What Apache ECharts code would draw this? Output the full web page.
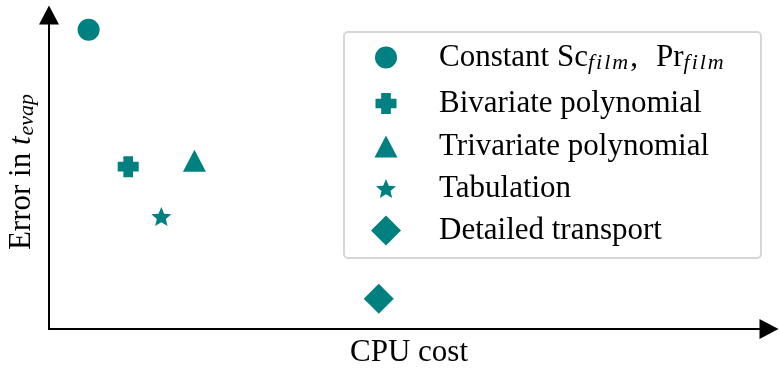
<!DOCTYPE html>
<html>
<head>
<meta charset="utf-8">
<script src="https://cdn.jsdelivr.net/npm/echarts@6/dist/echarts.min.js"></script>
<style>
html,body{margin:0;padding:0;background:#fff;}
#chart{width:779px;height:369px;}
</style>
</head>
<body>
<div id="chart"></div>
<script>
// ---- data ----
var methodNames = ['Constant Sc_film, Pr_film', 'Bivariate polynomial', 'Trivariate polynomial', 'Tabulation', 'Detailed transport'];
var cpuCost = [5.5, 11.0, 20.2, 15.6, 45.8];
var evapError = [95.3, 51.7, 53.6, 35.8, 9.6];
var xAxisTitle = 'CPU cost';
var yAxisTitle = 'Error in {it|t}{ysub|evap}';

// ---- styling ----
var TEAL = '#008080';
var FONT = 'Liberation Serif';
var FS = 31;
var plusPath = 'path://M27 0H73V27H100V73H73V100H27V73H0V27H27Z';
var starPath = 'path://M100 0L126.45 63.59L195.11 69.1L142.8 113.91L158.78 180.9L100 145L41.22 180.9L57.2 113.91L4.89 69.1L73.55 63.59Z';
var symbols = ['circle', plusPath, 'triangle', starPath, 'diamond'];
var symbolSizes = [[22, 22], [21, 21], [23, 22], [20, 19], [30, 30]];
var legendRowCenters = [56, 102, 145, 187, 230];
var legendIconCenterX = 386;
var legendTextX = 439;

var chart = echarts.init(document.getElementById('chart'), null, {renderer: 'canvas'});

var subStyle = {fontFamily: FONT, fontSize: 22, fontStyle: 'italic', color: '#000', padding: [11, 2, 0, 0]};

function fmtLegend(name) {
  return '{gap| }' + name
    .replace(/, /g, ',{sp| }')
    .replace(/_(\w+)/g, function (m, s) {
      return s.split('').map(function (c) { return '{sub|' + c + '}'; }).join('');
    });
}

var series = [];
var legends = [];
for (var i = 0; i < methodNames.length; i++) {
  series.push({
    type: 'scatter',
    name: methodNames[i],
    symbol: symbols[i],
    symbolSize: symbolSizes[i],
    itemStyle: {color: TEAL, opacity: 1},
    emphasis: {disabled: true},
    data: [[cpuCost[i], evapError[i]]]
  });
  var w = symbolSizes[i][0], h = symbolSizes[i][1];
  var gapW = legendTextX - legendIconCenterX - w / 2 - 5;
  legends.push({
    data: [{name: methodNames[i], icon: symbols[i]}],
    left: legendIconCenterX - w / 2,
    top: legendRowCenters[i] - Math.max(h, 28) / 2,
    orient: 'vertical',
    padding: 0,
    itemWidth: w,
    itemHeight: h,
    selectedMode: false,
    itemStyle: {color: TEAL},
    textStyle: {
      fontFamily: FONT, fontSize: FS, color: '#000',
      rich: {
        gap: {width: gapW, fontSize: FS, fontFamily: FONT},
        sp: {width: 18, fontSize: FS, fontFamily: FONT},
        sub: subStyle
      }
    },
    formatter: fmtLegend
  });
}

var axisLineStyle = {color: '#000', width: 2};

chart.setOption({
  animation: false,
  backgroundColor: '#fff',
  grid: {left: 49, right: 10, top: 15, bottom: 40, containLabel: false, outerBoundsMode: 'none'},
  xAxis: {
    type: 'value', min: 0, max: 100,
    name: xAxisTitle, nameLocation: 'middle', nameGap: 8,
    nameTextStyle: {fontFamily: FONT, fontSize: FS, color: '#000'},
    axisLine: {show: true, onZero: false, lineStyle: axisLineStyle, symbol: ['none', 'triangle'], symbolSize: [20, 19]},
    axisTick: {show: false}, axisLabel: {show: false}, splitLine: {show: false}
  },
  yAxis: {
    type: 'value', min: 0, max: 100,
    name: yAxisTitle, nameLocation: 'middle', nameGap: 11,
    nameTextStyle: {
      fontFamily: FONT, fontSize: FS, color: '#000',
      rich: {
        it: {fontFamily: FONT, fontSize: FS, fontStyle: 'italic', color: '#000'},
        ysub: {fontFamily: FONT, fontSize: 22, fontStyle: 'italic', color: '#000', padding: [11, 0, 0, 1]}
      }
    },
    axisLine: {show: true, onZero: false, lineStyle: axisLineStyle, symbol: ['none', 'triangle'], symbolSize: [20, 19]},
    axisTick: {show: false}, axisLabel: {show: false}, splitLine: {show: false}
  },
  graphic: [{
    type: 'rect', z: 1,
    shape: {x: 344, y: 32, width: 417, height: 226, r: 4},
    style: {fill: '#fff', stroke: '#d6d6d6', lineWidth: 2}
  }],
  legend: legends,
  series: series
});
</script>
</body>
</html>
